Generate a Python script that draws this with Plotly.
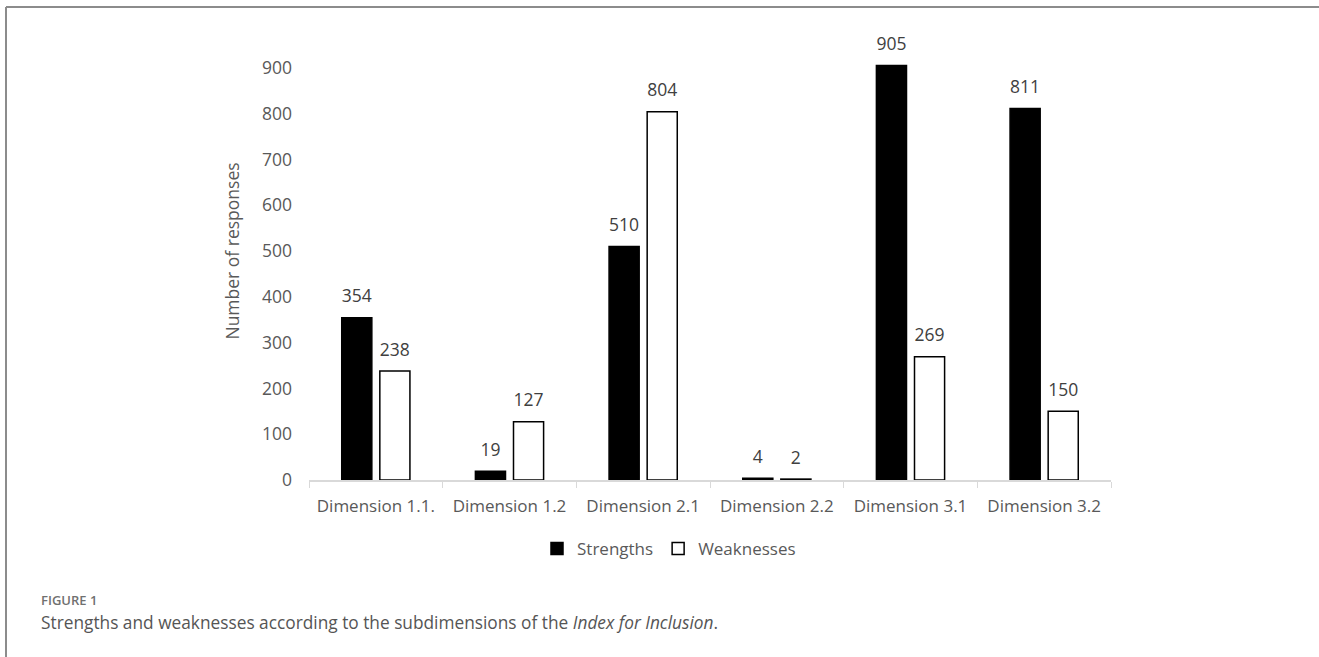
import plotly.graph_objects as go

categories = ["Dimension 1.1.", "Dimension 1.2", "Dimension 2.1",
              "Dimension 2.2", "Dimension 3.1", "Dimension 3.2"]
strengths = [354, 19, 510, 4, 905, 811]
weaknesses = [238, 127, 804, 2, 269, 150]
y_ticks = [0, 100, 200, 300, 400, 500, 600, 700, 800, 900]

W, H = 1319, 657
PL, PR, PT, PB = 309, 1111, 22, 480  # plot area in pixels


def px(x):
    return (x - PL) / (PR - PL)


def py(y):
    return (PB - y) / (PB - PT)


FONT = "Open Sans"
LABEL = dict(family=FONT, size=17.5, color="#404040")

fig = go.Figure()
fig.add_trace(go.Bar(
    name="Strengths", x=categories, y=strengths, offsetgroup="s",
    marker=dict(color="black", line=dict(color="black", width=1.5)),
))
fig.add_trace(go.Bar(
    name="Weaknesses", x=categories, y=weaknesses, offsetgroup="w",
    marker=dict(color="white", line=dict(color="black", width=1.5)),
))
for vals, grp in ((strengths, "s"), (weaknesses, "w")):
    fig.add_trace(go.Scatter(
        x=categories, y=vals, offsetgroup=grp, mode="markers+text",
        text=[str(v) for v in vals], textposition="top center",
        textfont=LABEL, cliponaxis=False, showlegend=False, hoverinfo="skip",
        marker=dict(size=16, opacity=0),
    ))

fig.update_layout(
    width=W, height=H,
    margin=dict(l=PL, r=W - PR, t=PT, b=H - PB),
    paper_bgcolor="white", plot_bgcolor="white",
    barmode="group", bargap=0.43, bargroupgap=0.21,
    scattermode="group", scattergap=0.43,
    font=dict(family=FONT, color="#595959"),
    showlegend=True,
    legend=dict(orientation="h", x=px(669), y=py(549), xanchor="center", yanchor="middle",
                font=dict(family=FONT, size=17, color="#595959"),
                itemwidth=30, traceorder="normal"),
    xaxis=dict(showgrid=False, showline=True, linecolor="#d9d9d9", linewidth=1.5,
               ticks="outside", tickson="boundaries", ticklen=6, tickcolor="#d9d9d9",
               ticklabelstandoff=10,
               tickfont=dict(family=FONT, size=17, color="#595959")),
    yaxis=dict(range=[0, 1000], tickvals=y_ticks, showgrid=False, zeroline=False,
               showline=False, ticklabelstandoff=16,
               tickfont=dict(family=FONT, size=17.5, color="#595959"),
               title=dict(text="Number of responses", standoff=17,
                          font=dict(family=FONT, size=17.5, color="#595959"))),
    shapes=[
        dict(type="line", xref="paper", yref="paper", x0=px(6), x1=px(1319),
             y0=py(7), y1=py(7), line=dict(color="#8c8c8c", width=2)),
        dict(type="line", xref="paper", yref="paper", x0=px(6), x1=px(6),
             y0=py(7), y1=py(657), line=dict(color="#8c8c8c", width=2)),
    ],
    annotations=[
        dict(text="FIGURE 1", xref="paper", yref="paper", x=px(39), y=py(600),
             xanchor="left", yanchor="middle", showarrow=False,
             font=dict(family=FONT, size=13, color="#707070", weight=600)),
        dict(text="Strengths and weaknesses according to the subdimensions of the <i>Index for Inclusion</i>.",
             xref="paper", yref="paper", x=px(39), y=py(622),
             xanchor="left", yanchor="middle", showarrow=False,
             font=dict(family=FONT, size=17.3, color="#555555")),
    ],
)

fig.write_html("out.html", config={"displayModeBar": False},
               post_script="document.body.style.margin='0px';")
